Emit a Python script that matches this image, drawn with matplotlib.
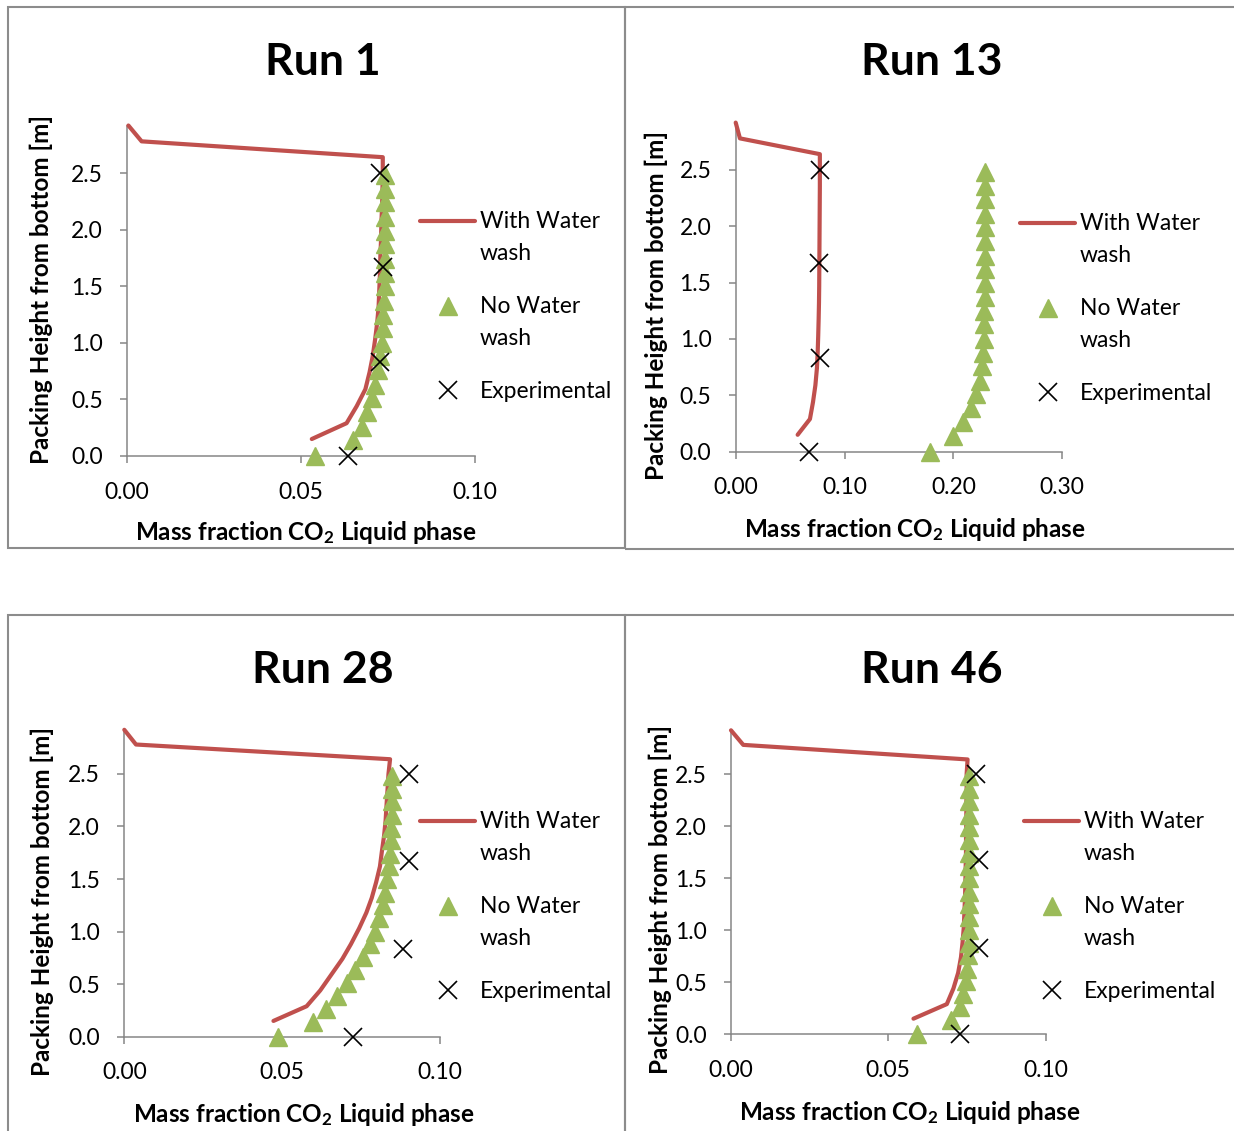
import matplotlib
matplotlib.use("Agg")
import matplotlib.pyplot as plt
from matplotlib.legend_handler import HandlerLine2D
from matplotlib.patches import Rectangle

plt.rcParams["font.family"] = ["Lato", "DejaVu Sans"]
plt.rcParams["mathtext.fontset"] = "custom"
plt.rcParams["mathtext.rm"] = "Lato"
plt.rcParams["mathtext.bf"] = "Lato:bold"

# ---------------------------------------------------------------- data
# packing heights [m]
exp_heights = [0.0, 0.83, 1.67, 2.50]
nowash_heights = [0.00, 0.14, 0.26, 0.39, 0.51, 0.63, 0.76, 0.88, 1.00, 1.13, 1.25,
                  1.37, 1.50, 1.62, 1.74, 1.87, 1.99, 2.11, 2.24, 2.36, 2.48]
wash_heights = [0.15, 0.29, 0.44, 0.59, 0.74, 0.88, 1.03, 1.18, 1.32, 1.47,
                1.62, 1.76, 1.91, 2.06, 2.21, 2.35, 2.50, 2.64, 2.78, 2.92]

# mass fraction CO2 in liquid phase
run1_wash = [0.0531, 0.0631, 0.0660, 0.0685, 0.0697, 0.0706, 0.0713, 0.0719, 0.0723, 0.0725,
             0.0727, 0.0728, 0.0730, 0.0731, 0.0733, 0.0734, 0.0735, 0.0735, 0.0042, 0.0004]
run1_nowash = [0.0540, 0.0650, 0.0674, 0.0689, 0.0703, 0.0713, 0.0722, 0.0728, 0.0732, 0.0735, 0.0737,
               0.0739, 0.0740, 0.0741, 0.0741, 0.0742, 0.0742, 0.0742, 0.0742, 0.0742, 0.0742]
run1_exp = [0.0636, 0.0727, 0.0735, 0.0727]

run13_wash = [0.0569, 0.0682, 0.0710, 0.0732, 0.0746, 0.0753, 0.0758, 0.0762, 0.0765, 0.0767,
              0.0768, 0.0769, 0.0770, 0.0771, 0.0772, 0.0773, 0.0773, 0.0773, 0.0039, 0.0000]
run13_nowash = [0.1783, 0.1997, 0.2089, 0.2165, 0.2211, 0.2241, 0.2262, 0.2271, 0.2277, 0.2281, 0.2284,
                0.2286, 0.2287, 0.2288, 0.2289, 0.2290, 0.2291, 0.2292, 0.2292, 0.2293, 0.2294]
run13_exp = [0.0676, 0.0773, 0.0767, 0.0773]

run28_wash = [0.0472, 0.0577, 0.0620, 0.0655, 0.0690, 0.0717, 0.0743, 0.0766, 0.0783, 0.0797,
              0.0809, 0.0815, 0.0822, 0.0827, 0.0830, 0.0833, 0.0836, 0.0841, 0.0037, 0.0000]
run28_nowash = [0.0485, 0.0598, 0.0638, 0.0672, 0.0704, 0.0730, 0.0756, 0.0778, 0.0793, 0.0807, 0.0818,
                0.0825, 0.0832, 0.0837, 0.0841, 0.0843, 0.0844, 0.0846, 0.0846, 0.0846, 0.0846]
run28_exp = [0.0723, 0.0881, 0.0902, 0.0902]

run46_wash = [0.0580, 0.0686, 0.0707, 0.0722, 0.0731, 0.0736, 0.0740, 0.0742, 0.0744, 0.0745,
              0.0746, 0.0747, 0.0747, 0.0748, 0.0748, 0.0749, 0.0749, 0.0752, 0.0039, 0.0000]
run46_nowash = [0.0590, 0.0698, 0.0728, 0.0738, 0.0746, 0.0750, 0.0753, 0.0755, 0.0756, 0.0757, 0.0757,
                0.0757, 0.0757, 0.0757, 0.0757, 0.0757, 0.0757, 0.0757, 0.0757, 0.0757, 0.0757]
run46_exp = [0.0728, 0.0789, 0.0789, 0.0779]

run_titles = ["Run 1", "Run 13", "Run 28", "Run 46"]
series_labels = ["With Water\nwash", "No Water\nwash", "Experimental"]
x_ticks_small = [0.00, 0.05, 0.10]
x_ticks_large = [0.00, 0.10, 0.20, 0.30]
x_ticklabels_small = ["0.00", "0.05", "0.10"]
x_ticklabels_large = ["0.00", "0.10", "0.20", "0.30"]
y_ticks = [0.0, 0.5, 1.0, 1.5, 2.0, 2.5]
y_ticklabels = ["0.0", "0.5", "1.0", "1.5", "2.0", "2.5"]
x_label = r"Mass fraction $\mathbf{CO_2}$ Liquid phase"
y_label = "Packing Height from bottom [m]"

# ---------------------------------------------------------------- style
RED = "#C0504D"
GREEN = "#9BBB59"
AXIS_GREY = "#868686"
FRAME_GREY = "#8C8C8C"
W, H = 1234, 1131
TEXT_SIZE = 16.5
LABEL_SIZE = 17.5

fig = plt.figure(figsize=(W / 100, H / 100), dpi=100)
fig.patch.set_facecolor("white")


def fx(px):
    return px / W


def fy(py):
    return 1 - py / H


class FirstLineHandler(HandlerLine2D):
    """Legend handle lifted up to the first line of a two-line label."""

    def __init__(self, shift, **kw):
        super().__init__(**kw)
        self.shift = shift

    def create_artists(self, legend, orig_handle, xdescent, ydescent,
                       width, height, fontsize, trans):
        arts = super().create_artists(legend, orig_handle, xdescent, ydescent,
                                      width, height, fontsize, trans)
        for a in arts:
            a.set_ydata([v + self.shift for v in a.get_ydata()])
        return arts


# panel frames (pixel boxes)
frames = [(8, 7, 625, 548), (624.5, 6.5, 1245, 548.5),
          (8, 615, 625, 1145), (624.5, 615, 1245, 1145)]
for (x0, y0, x1, y1) in frames:
    fig.add_artist(Rectangle((fx(x0), fy(y1)), (x1 - x0) / W, (y1 - y0) / H,
                             transform=fig.transFigure, fill=False,
                             edgecolor=FRAME_GREY, linewidth=1.5))

panels = [
    dict(wash=run1_wash, nowash=run1_nowash, exp=run1_exp, xmax=0.10,
         xt=x_ticks_small, xtl=x_ticklabels_small,
         box=(127, 456, 475, 125.5), title=(323, 75), leg=(420, 211),
         xlab=(306, 519), ylab=(53, 289)),
    dict(wash=run13_wash, nowash=run13_nowash, exp=run13_exp, xmax=0.30,
         xt=x_ticks_large, xtl=x_ticklabels_large,
         box=(735.7, 451.7, 1062.3, 122.6), title=(932, 75), leg=(1020, 213),
         xlab=(915, 516), ylab=(668, 306)),
    dict(wash=run28_wash, nowash=run28_nowash, exp=run28_exp, xmax=0.10,
         xt=x_ticks_small, xtl=x_ticklabels_small,
         box=(124.3, 1036.7, 440.3, 729.8), title=(323, 683), leg=(420, 811),
         xlab=(304, 1101), ylab=(54, 901)),
    dict(wash=run46_wash, nowash=run46_nowash, exp=run46_exp, xmax=0.10,
         xt=x_ticks_small, xtl=x_ticklabels_small,
         box=(731, 1034.3, 1045.6, 730.3), title=(932, 683), leg=(1024, 811),
         xlab=(910, 1099), ylab=(672, 899)),
]

for title, p in zip(run_titles, panels):
    x0, y0, x1, y1 = p["box"]
    ax = fig.add_axes([fx(x0), fy(y0), (x1 - x0) / W, (y0 - y1) / H])

    l_wash, = ax.plot(p["wash"], wash_heights, color=RED, lw=3.0,
                      solid_capstyle="round", solid_joinstyle="round",
                      clip_on=False, zorder=3)
    l_nowash, = ax.plot(p["nowash"], nowash_heights, ls="none", marker="^",
                        ms=13.5, color=GREEN, mec=GREEN, clip_on=False, zorder=4)
    l_exp, = ax.plot(p["exp"], exp_heights, ls="none", marker="x", ms=12.5,
                     mew=1.2, color="black", clip_on=False, zorder=5)

    ax.set_xlim(0, p["xmax"])
    ax.set_ylim(0, 2.92)
    ax.set_xticks(p["xt"])
    ax.set_xticklabels(p["xtl"])
    ax.set_yticks(y_ticks)
    ax.set_yticklabels(y_ticklabels)
    for s in ("top", "right"):
        ax.spines[s].set_visible(False)
    for s in ("left", "bottom"):
        ax.spines[s].set_color(AXIS_GREY)
        ax.spines[s].set_linewidth(1.1)
    ax.tick_params(axis="both", direction="out", length=5, width=1.1,
                   color=AXIS_GREY, labelsize=TEXT_SIZE, labelcolor="black")
    ax.tick_params(axis="x", pad=13.5)
    ax.tick_params(axis="y", pad=12.5)
    ax.patch.set_alpha(0)

    ax.set_xlabel(x_label, fontsize=LABEL_SIZE, fontweight="bold", ha="center", va="top")
    ax.xaxis.set_label_coords(fx(p["xlab"][0]), fy(p["xlab"][1]), transform=fig.transFigure)
    ax.set_ylabel(y_label, fontsize=LABEL_SIZE, fontweight="bold")
    ax.yaxis.set_label_coords(fx(p["ylab"][0]), fy(p["ylab"][1]), transform=fig.transFigure)

    fig.text(fx(p["title"][0]), fy(p["title"][1]), title, ha="center",
             va="baseline", fontsize=32, fontweight="bold")

    lift = 12.0
    leg = ax.legend([l_wash, l_nowash, l_exp], series_labels,
                    loc="upper left",
                    bbox_to_anchor=(fx(p["leg"][0]), fy(p["leg"][1])),
                    bbox_transform=fig.transFigure, frameon=False,
                    fontsize=TEXT_SIZE, borderpad=0, borderaxespad=0,
                    handlelength=2.4, handletextpad=0.22, labelspacing=1.4,
                    numpoints=1,
                    handler_map={l_wash: FirstLineHandler(lift),
                                 l_nowash: FirstLineHandler(lift)})
    for t in leg.get_texts():
        t.set_linespacing(1.65)

fig.savefig("out.png", dpi=100, facecolor="white")
